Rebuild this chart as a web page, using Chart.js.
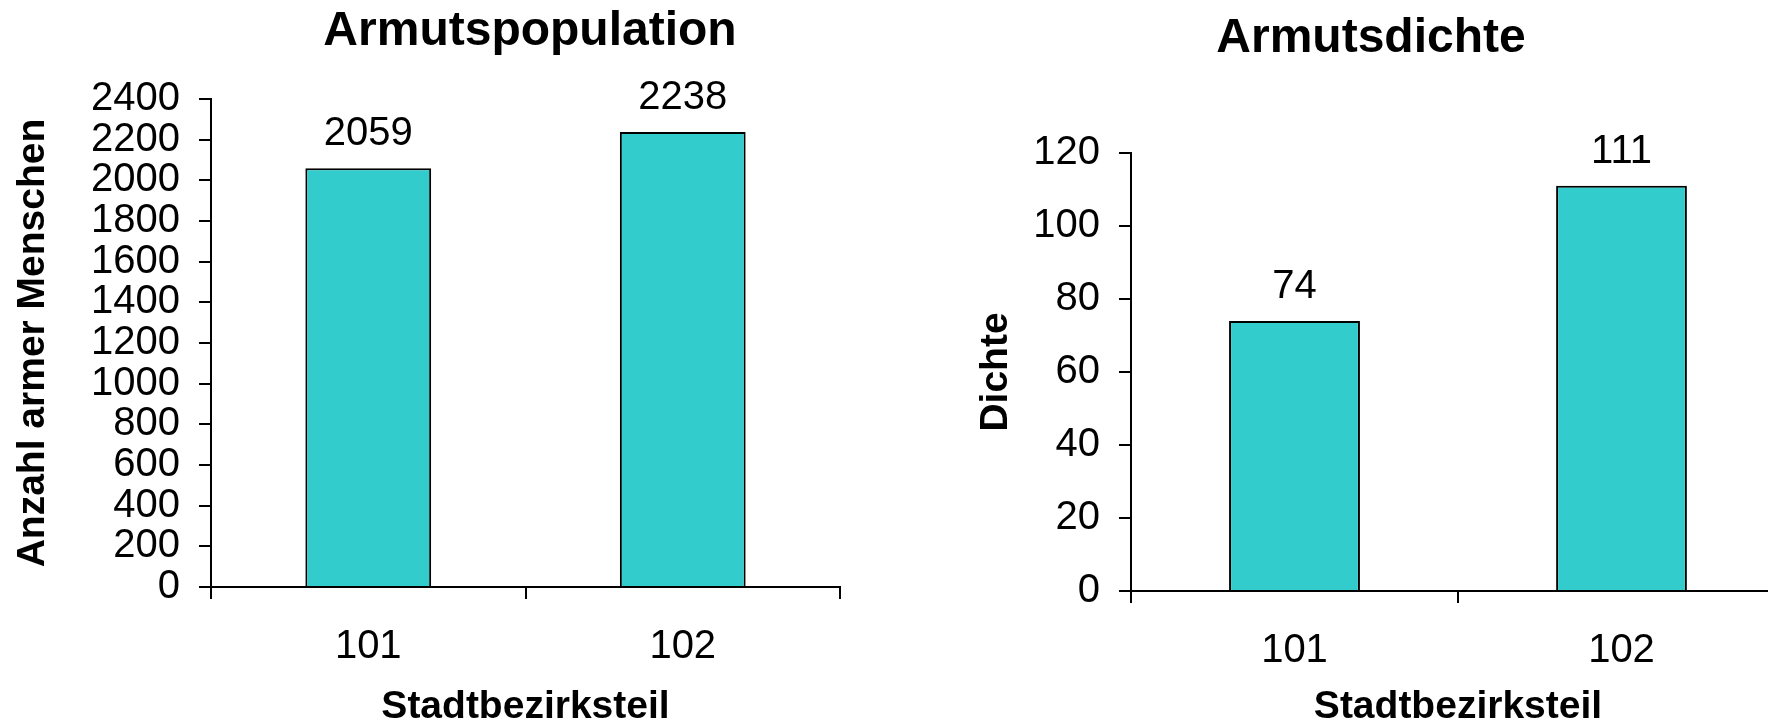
<!DOCTYPE html>
<html>
<head>
<meta charset="utf-8">
<script src="https://cdn.jsdelivr.net/npm/chart.js"></script>
<style>
  html, body { margin: 0; padding: 0; background: #fff; overflow: hidden; width: 1768px; height: 725px; }
  canvas { position: absolute; top: 0; }
  #popChart { left: 0; }
  #dichteChart { left: 880px; }
</style>
</head>
<body>
<canvas id="popChart" width="870" height="740"></canvas>
<canvas id="dichteChart" width="920" height="740"></canvas>
<script>
// Daten
var bezirke = ['101', '102'];
var population = [2059, 2238];
var dichte = [74, 111];

var schrift = 'Liberation Sans, Arial, sans-serif';
var tuerkis = '#33CCCC';

// Titel und Werte ueber den Balken
var textPlugin = {
  id: 'textPlugin',
  afterDraw: function(chart, args, opts) {
    var ctx = chart.ctx;
    ctx.save();
    ctx.fillStyle = '#000';
    ctx.textAlign = 'center';
    ctx.textBaseline = 'middle';
    ctx.font = 'bold 48px ' + schrift;
    ctx.fillText(opts.titel, opts.titelX, opts.titelY);
    ctx.font = '40px ' + schrift;
    var meta = chart.getDatasetMeta(0);
    meta.data.forEach(function(bar, i) {
      ctx.fillText(chart.data.datasets[0].data[i], bar.x, bar.y - 34);
    });
    ctx.restore();
  }
};

function balken(id, werte, max, schritt, yTitel, yTitelAbstand, titel, titelX, titelY, oben, achseBreite, rechts, xHoehe) {
  var ctx = document.getElementById(id).getContext('2d');
  return new Chart(ctx, {
    type: 'bar',
    data: {
      labels: bezirke,
      datasets: [{
        data: werte,
        backgroundColor: tuerkis,
        borderColor: '#000',
        borderWidth: 2,
        borderSkipped: 'bottom',
        categoryPercentage: 1,
        barPercentage: 0.4
      }]
    },
    options: {
      responsive: false,
      animation: false,
      layout: { padding: { top: oben, right: rechts, left: 0, bottom: 0 } },
      plugins: {
        legend: { display: false },
        tooltip: { enabled: false },
        textPlugin: { titel: titel, titelX: titelX, titelY: titelY }
      },
      scales: {
        x: {
          grid: { drawOnChartArea: false, color: '#000', lineWidth: 2, tickLength: 12, offset: true },
          border: { color: '#000', width: 2 },
          ticks: { color: '#000', font: { family: schrift, size: 40 }, padding: 24 },
          title: { display: true, text: 'Stadtbezirksteil', color: '#000', font: { family: schrift, size: 39, weight: 'bold' }, padding: { top: 0, bottom: 9 } },
          afterFit: function(s) { s.height = xHoehe; }
        },
        y: {
          min: 0,
          max: max,
          grid: { drawOnChartArea: false, color: '#000', lineWidth: 2, tickLength: 12 },
          border: { color: '#000', width: 2 },
          ticks: {
            stepSize: schritt,
            autoSkip: false,
            color: '#000',
            font: { family: schrift, size: 40 },
            padding: 19,
            callback: function(v) { return String(v); }
          },
          title: { display: true, text: yTitel, color: '#000', font: { family: schrift, size: 39, weight: 'bold' }, padding: { top: yTitelAbstand, bottom: 0 } },
          afterFit: function(s) { s.width = achseBreite; }
        }
      }
    },
    plugins: [textPlugin]
  });
}

balken('popChart', population, 2400, 200, 'Anzahl armer Menschen', 10, 'Armutspopulation', 530, 32, 99, 211, 30, 153);
balken('dichteChart', dichte, 120, 20, 'Dichte', 93, 'Armutsdichte', 491, 39, 153, 251, 15, 149);
</script>
</body>
</html>
